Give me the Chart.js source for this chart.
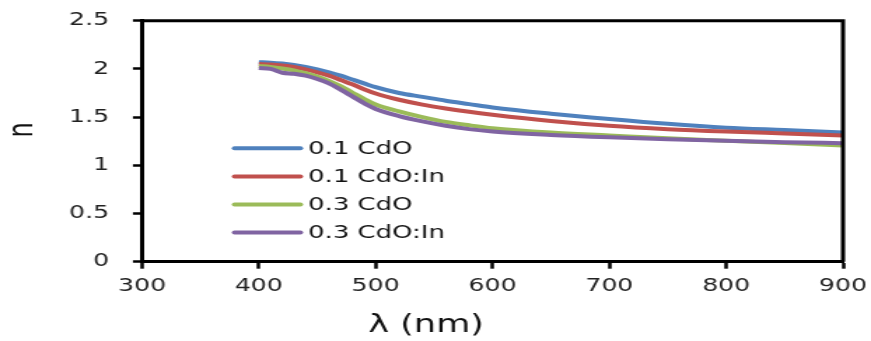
<!DOCTYPE html>
<html><head><meta charset="utf-8">
<script src="https://cdn.jsdelivr.net/npm/chart.js@4/dist/chart.umd.min.js"></script>
<style>
html,body{margin:0;padding:0;background:#fff;overflow:hidden}
#wrap{width:622px;height:341px;transform:scaleX(1.40032);transform-origin:0 0}
</style></head>
<body><div id="wrap"><canvas id="c"></canvas></div>
<script>
// ---- data ----
const wavelengths = [400,410,420,430,440,450,460,470,480,490,500,520,540,560,580,600,650,700,750,800,850,900];
const seriesNames = ['0.1 CdO','0.1 CdO:In','0.3 CdO','0.3 CdO:In'];
const n01CdO   = [2.07,2.065,2.055,2.04,2.02,1.995,1.965,1.93,1.89,1.85,1.81,1.75,1.71,1.67,1.635,1.60,1.535,1.48,1.43,1.39,1.365,1.34];
const n01CdOIn = [2.05,2.045,2.035,2.02,1.995,1.965,1.93,1.885,1.84,1.79,1.745,1.68,1.63,1.59,1.555,1.525,1.46,1.41,1.375,1.35,1.33,1.31];
const n03CdO   = [2.03,2.02,2.005,1.985,1.955,1.92,1.875,1.82,1.755,1.69,1.63,1.56,1.50,1.45,1.415,1.385,1.34,1.31,1.28,1.255,1.23,1.205];
const n03CdOIn = [2.01,2.00,1.96,1.95,1.93,1.895,1.85,1.785,1.715,1.645,1.585,1.51,1.455,1.41,1.375,1.35,1.315,1.29,1.27,1.255,1.24,1.23];
const xTickValues = [300,400,500,600,700,800,900];
const yTickLabels = ['0','0.5','1','1.5','2','2.5'];
const xTitle = 'λ (nm)';
const yTitle = 'n';
const colors = ['#4F81BD','#C0504D','#9BBB59','#8064A2'];
const AXIS = '#000000';

const allSeries = [n01CdO,n01CdOIn,n03CdO,n03CdOIn];
const datasets = allSeries.map((vals,i)=>({
  label: seriesNames[i],
  data: wavelengths.map((w,k)=>({x:w,y:vals[k]})),
  borderColor: colors[i],
  backgroundColor: colors[i],
  borderWidth: 4,
  pointRadius: 0,
  cubicInterpolationMode: 'monotone',
  fill: false,
  order: allSeries.length-1-i
}));

const FONT = '"DejaVu Sans", sans-serif';

const decor = {
  id:'decor',
  afterDraw(chart){
    const {ctx, chartArea:a} = chart;
    ctx.save();
    // plot frame: top and right edges
    ctx.strokeStyle=AXIS; ctx.lineWidth=3; ctx.lineCap='butt';
    ctx.beginPath(); ctx.moveTo(a.left-1.5,a.top); ctx.lineTo(a.right,a.top); ctx.lineTo(a.right,a.bottom); ctx.stroke();
    // legend inside the plot
    ctx.lineCap='round';
    chart.data.datasets.forEach((d,i)=>{
      const y = 148.3 + i*28.1;
      ctx.strokeStyle=d.borderColor; ctx.lineWidth=4;
      ctx.beginPath(); ctx.moveTo(167.5,y); ctx.lineTo(214.5,y); ctx.stroke();
      ctx.fillStyle='#111'; ctx.font='18.5px '+FONT; ctx.textBaseline='middle'; ctx.textAlign='left';
      ctx.fillText(d.label,220,y+1);
    });
    // axis titles
    ctx.fillStyle='#111';
    ctx.font='25px '+FONT; ctx.textAlign='center'; ctx.textBaseline='middle';
    ctx.fillText(xTitle,304.3,325);
    ctx.translate(16.4,130); ctx.rotate(-Math.PI/2);
    ctx.font='24px '+FONT;
    ctx.fillText(yTitle,0,0);
    ctx.restore();
  }
};

new Chart(document.getElementById('c'),{
  type:'line',
  data:{datasets},
  options:{
    responsive:true, maintainAspectRatio:false, animation:false,
    layout:{padding:{left:0,right:20,top:20.7,bottom:0}},
    plugins:{legend:{display:false},tooltip:{enabled:false}},
    scales:{
      x:{type:'linear',min:300,max:900,
        afterBuildTicks(s){s.ticks=xTickValues.map(v=>({value:v}));},
        afterFit(s){s.height=79.3; s.paddingLeft=0; s.paddingRight=0;},
        grid:{display:true,drawOnChartArea:false,drawTicks:true,tickLength:7,tickColor:AXIS,tickWidth:2.5,color:AXIS},
        border:{display:true,color:AXIS,width:3},
        ticks:{color:'#222',font:{family:FONT,size:18},padding:7,maxRotation:0,autoSkip:false,
          callback:(v)=>String(v)}
      },
      y:{type:'linear',min:0,max:2.5,
        ticks:{stepSize:0.5,color:'#222',font:{family:FONT,size:18},padding:17,
          callback:(v,i)=>yTickLabels[i]},
        afterFit(s){s.width=101.4; s.paddingTop=0; s.paddingBottom=0;},
        grid:{display:true,drawOnChartArea:false,drawTicks:true,tickLength:6.5,tickColor:AXIS,tickWidth:2.5,color:AXIS},
        border:{display:true,color:AXIS,width:3}
      }
    }
  },
  plugins:[decor]
});
</script>
</body></html>
